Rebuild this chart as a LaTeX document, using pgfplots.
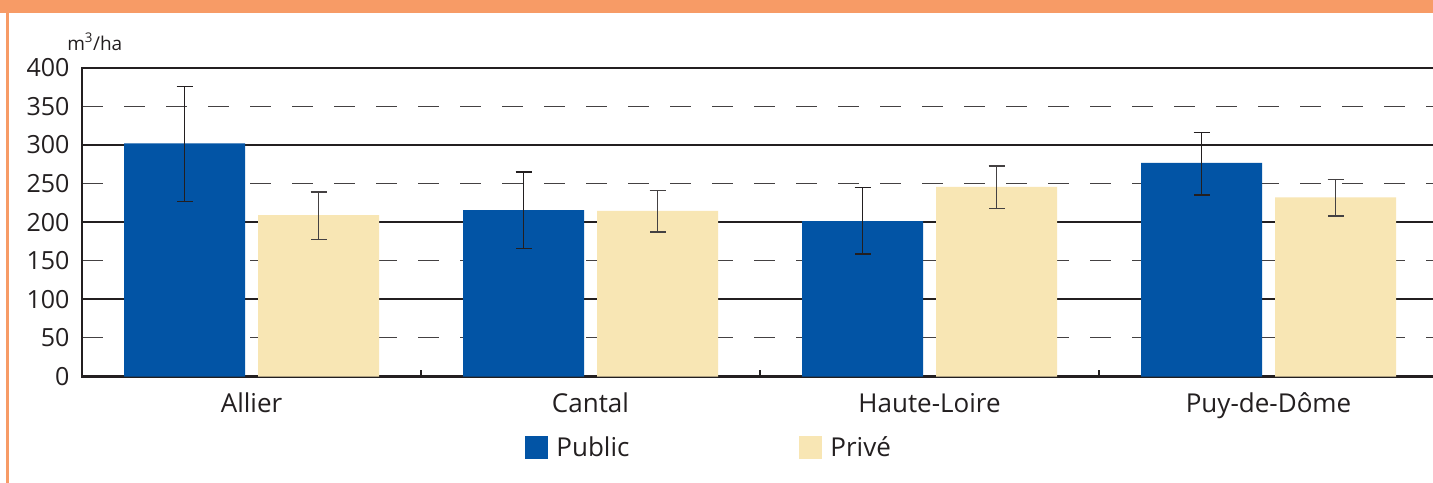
\documentclass[border=0pt]{standalone}
\usepackage{pgfplots}
\pgfplotsset{compat=1.18}
\usepackage{pgfplotstable}
\usepackage{fontspec}
\setmainfont{Open Sans}
\definecolor{pubblue}{HTML}{0254A5}
\definecolor{privbeige}{HTML}{F8E6B4}
\definecolor{hdrorange}{HTML}{F79B66}
\definecolor{gridk}{HTML}{231F20}

\pgfplotstableread{
x y plus minus
0 302 74 75
1 215.5 49.5 49.5
2 201.4 43.2 42.7
3 276.6 39.2 41.6
}\publicdata
\pgfplotstableread{
x y plus minus
0 209 30 31.3
1 214.4 26.3 27.2
2 245.5 27.2 28.1
3 232 23.4 24
}\privedata

\begin{document}
\begin{tikzpicture}
\useasboundingbox (0,0) rectangle (1433bp,483bp);
\fill[white] (0,0) rectangle (1433bp,483bp);
\fill[hdrorange] (0,470bp) rectangle (1433bp,483bp);
\fill[hdrorange] (6bp,0) rectangle (8.5bp,470bp);
\begin{axis}[
  at={(82bp,106.5bp)}, anchor=south west,
  scale only axis, width=1356bp, height=308.8bp,
  xmin=-0.5, xmax=3.5, ymin=0, ymax=400,
  ybar, bar width=121bp,
  xtick={0,1,2,3},
  xticklabels={Allier,Cantal,Haute-Loire,Puy-de-Dôme},
  xtick pos=lower,
  tick align=inside,
  major x tick style={draw=none},
  minor xtick={0.5,1.5,2.5},
  minor x tick style={gridk, line width=1.6bp},
  minor tick length=6bp,
  ytick={0,50,...,400},
  major y tick style={draw=none},
  ymajorgrids,
  major grid style={gridk!85, line width=1.2bp, dash pattern=on 21bp off 21bp},
  extra y ticks={100,200,300},
  extra y tick labels={},
  extra y tick style={grid=major, major grid style={gridk, line width=1.8bp, solid}, major y tick style={draw=none}},
  axis line style={gridk, line width=2.2bp},
  yticklabel style={font=\fontsize{25bp}{28bp}\selectfont, text=gridk, xshift=-9bp},
  xticklabel style={font=\fontsize{26bp}{30bp}\selectfont, text=gridk, yshift=-13bp},
  /pgf/number format/assume math mode=true,
  legend style={at={(0.327,-0.229)}, anchor=west, draw=none, fill=none,
    inner sep=0pt, outer sep=0pt,
    font=\fontsize{26bp}{30bp}\selectfont, text=gridk,
    legend columns=2,
    /tikz/every odd column/.append style={column sep=6bp},
    /tikz/every even column/.append style={column sep=168bp},
    cells={anchor=west}},
  legend image code/.code={\fill[#1] (0bp,-11.5bp) rectangle (23bp,11.5bp);},
  clip=false,
]
\addplot[fill=pubblue, draw=none, bar shift=-67bp,
  error bars/.cd, y dir=both, y explicit,
  error bar style={gridk, line width=1.2bp},
  error mark options={rotate=90, mark size=8bp, line width=1.2bp, gridk}]
  table[x=x, y=y, y error plus=plus, y error minus=minus]{\publicdata};
\addlegendentry{Public}
\addplot[fill=privbeige, draw=none, bar shift=67bp,
  error bars/.cd, y dir=both, y explicit,
  error bar style={gridk!85, line width=1.2bp},
  error mark options={rotate=90, mark size=8bp, line width=1.2bp, gridk!85}]
  table[x=x, y=y, y error plus=plus, y error minus=minus]{\privedata};
\addlegendentry{Privé}
\node[anchor=south west, inner sep=0pt, font=\fontsize{19bp}{22bp}\selectfont, text=gridk]
  at (rel axis cs:-0.011,1.055) {m\textsuperscript{3}/ha};
\end{axis}
\end{tikzpicture}
\end{document}
